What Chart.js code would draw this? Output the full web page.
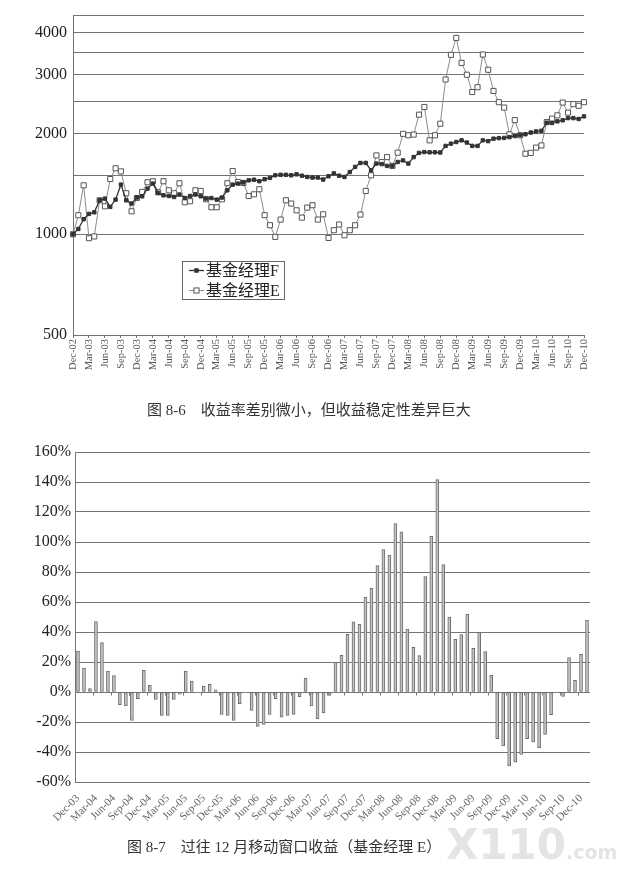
<!DOCTYPE html>
<html>
<head>
<meta charset="utf-8">
<script src="https://cdn.jsdelivr.net/npm/chart.js@4.4.0/dist/chart.umd.min.js"></script>
<style>
  body { margin: 0; background: #fff; width: 640px; height: 890px; position: relative; overflow: hidden; }
  canvas { position: absolute; left: 0; }
  #navChart { top: 0; }
  #rollChart { top: 430px; }
  .caption { position: absolute; font-family: "Liberation Serif", "Noto Sans CJK SC", serif; font-size: 15px; color: #333; white-space: pre; }
  #wm { position: absolute; left: 446px; top: 820px; font-family: "DejaVu Sans", sans-serif; font-weight: bold; color: #e4e4e4; white-space: pre; }
</style>
</head>
<body>
<canvas id="navChart" width="640" height="400"></canvas>
<canvas id="rollChart" width="640" height="410"></canvas>
<div class="caption" style="left:147px; top:398px;">图 8-6　收益率差别微小，但收益稳定性差异巨大</div>
<div class="caption" style="left:127px; top:835px;">图 8-7　过往 12 月移动窗口收益（基金经理 E）</div>
<div id="wm"><span style="font-size:42px;">X110</span><span style="font-size:19px;">.com</span></div>
<script>
const monthNames = ['Jan', 'Feb', 'Mar', 'Apr', 'May', 'Jun', 'Jul', 'Aug', 'Sep', 'Oct', 'Nov', 'Dec'];

// month labels like "Dec-02"
function monthLabels(year, month, count) {
  const out = [];
  for (let i = 0; i < count; i++) {
    const m = (month + i) % 12;
    const y = year + Math.floor((month + i) / 12);
    out.push(monthNames[m] + '-' + String(y).padStart(2, '0'));
  }
  return out;
}

const navMonths = monthLabels(2, 11, 97);   // Dec-02 .. Dec-10
const rollMonths = monthLabels(3, 11, 86);  // Dec-03 ..

// fund value, start = 1000
const managerF = [1000, 1037, 1109, 1150, 1163, 1263, 1278, 1207, 1269, 1407,
  1263, 1235, 1287, 1298, 1369, 1417, 1329, 1307, 1301, 1292,
  1314, 1283, 1301, 1314, 1298, 1278, 1283, 1269, 1287, 1353,
  1407, 1417, 1428, 1449, 1455, 1440, 1460, 1474, 1500, 1505,
  1505, 1500, 1510, 1496, 1483, 1477, 1477, 1457, 1490, 1520,
  1496, 1483, 1534, 1589, 1633, 1633, 1552, 1626, 1620, 1600,
  1600, 1644, 1662, 1626, 1700, 1750, 1760, 1757, 1757, 1755,
  1836, 1865, 1886, 1908, 1879, 1836, 1836, 1908, 1897, 1930,
  1937, 1940, 1950, 1965, 1980, 1990, 2013, 2028, 2037, 2154,
  2150, 2174, 2190, 2223, 2223, 2210, 2250];

const managerE = [1000, 1140, 1400, 973, 985, 1263, 1212, 1462, 1574, 1541,
  1326, 1171, 1283, 1338, 1430, 1440, 1335, 1440, 1353, 1326,
  1420, 1246, 1255, 1353, 1347, 1272, 1204, 1204, 1272, 1420,
  1545, 1432, 1423, 1301, 1316, 1363, 1140, 1064, 982, 1106,
  1263, 1235, 1179, 1121, 1201, 1221, 1106, 1147, 975, 1028,
  1069, 993, 1028, 1064, 1145, 1347, 1500, 1720, 1644, 1700,
  1600, 1753, 1995, 1975, 1985, 2276, 2400, 1908, 1975, 2139,
  2900, 3436, 3860, 3250, 2996, 2660, 2750, 3443, 3100, 2680,
  2480, 2390, 1988, 2193, 1975, 1740, 1750, 1815, 1842, 2163,
  2215, 2266, 2474, 2308, 2448, 2420, 2480];

// 12-month rolling return of manager E, in %
const rollingE = [27.3, 16, 2.2, 47, 33, 14, 11, -8.4, -9.3, -19,
  -4.4, 14.4, 4.4, -4.9, -15.6, -15.6, -5, -1.5, 14, 7.3,
  -0.5, 3.8, 5.1, 1.5, -14.9, -15.6, -19, -7.8, -0.5, -12.2,
  -22.9, -21.6, -14.9, -4.4, -16.7, -15.6, -14.9, -3.3, 9.3, -9.3,
  -18, -14, -2.2, 20, 24.4, 38.4, 46.7, 45.1, 63.3, 69.3,
  84.2, 94.9, 91.3, 112.2, 106.7, 42, 29.8, 24.2, 76.9, 103.8,
  141.6, 84.9, 50, 35.1, 38.2, 51.8, 29.1, 39.8, 26.9, 11.1,
  -31.1, -36, -49.3, -46.7, -41.6, -31.1, -33.3, -37.1, -28.2, -15.1,
  -0.5, -2.9, 22.9, 7.8, 25.1, 48];

const navGrid = [500, 1000, 1500, 2000, 2500, 3000, 3500, 4000, 4500];
const navLabels = [500, 1000, 2000, 3000, 4000];
const rollTicks = [-60, -40, -20, 0, 20, 40, 60, 80, 100, 120, 140, 160];

const serif = '"Liberation Serif", "Noto Sans CJK SC", serif';
const gridColor = '#747474';

// legend box drawn inside the plot, as in the book figure
const legendBox = {
  id: 'legendBox',
  afterDraw(chart) {
    const ctx = chart.ctx;
    ctx.save();
    ctx.fillStyle = '#fff';
    ctx.fillRect(182, 261, 102, 38);
    ctx.strokeStyle = '#666';
    ctx.lineWidth = 1;
    ctx.strokeRect(182.5, 261.5, 102, 38);
    chart.data.datasets.forEach((ds, i) => {
      const y = 270.5 + i * 20;
      ctx.strokeStyle = ds.borderColor;
      ctx.lineWidth = ds.borderWidth;
      ctx.beginPath();
      ctx.moveTo(189, y);
      ctx.lineTo(204, y);
      ctx.stroke();
      const s = ds.pointRadius * Math.SQRT1_2;
      ctx.fillStyle = ds.pointBackgroundColor;
      ctx.fillRect(196.5 - s, y - s, 2 * s, 2 * s);
      ctx.strokeStyle = ds.pointBorderColor;
      ctx.lineWidth = 1;
      ctx.strokeRect(196.5 - s, y - s, 2 * s, 2 * s);
      ctx.fillStyle = '#222';
      ctx.font = '16px ' + serif;
      ctx.textBaseline = 'middle';
      ctx.fillText(ds.label, 206, y + 1);
    });
    ctx.restore();
  }
};

// small category ticks on the 0% line, every third month
const zeroTicks = {
  id: 'zeroTicks',
  afterDatasetsDraw(chart) {
    const ctx = chart.ctx;
    const x = chart.scales.x;
    const y0 = Math.round(chart.scales.y.getPixelForValue(0)) + 0.5;
    ctx.save();
    ctx.strokeStyle = gridColor;
    ctx.lineWidth = 1;
    ctx.beginPath();
    for (let i = 0; i <= rollMonths.length; i += 3) {
      const px = Math.round(x.left + i * x.width / rollMonths.length) + 0.5;
      ctx.moveTo(px, y0);
      ctx.lineTo(px, y0 + 3);
    }
    ctx.stroke();
    ctx.restore();
  }
};

new Chart(document.getElementById('navChart'), {
  type: 'line',
  data: {
    labels: navMonths,
    datasets: [
      {
        label: '基金经理F',
        data: managerF,
        borderColor: '#333',
        borderWidth: 1.3,
        pointStyle: 'rect',
        pointRadius: 2.4,
        pointBackgroundColor: '#333',
        pointBorderColor: '#333',
        pointBorderWidth: 1,
      },
      {
        label: '基金经理E',
        data: managerE,
        borderColor: '#8c8c8c',
        borderWidth: 1,
        pointStyle: 'rect',
        pointRadius: 3.6,
        pointBackgroundColor: '#fff',
        pointBorderColor: '#555',
        pointBorderWidth: 1,
      },
    ],
  },
  options: {
    responsive: false,
    animation: false,
    layout: { padding: { top: 13, right: 56, left: 0, bottom: 0 } },
    plugins: {
      legend: { display: false },
      tooltip: { enabled: false },
    },
    scales: {
      x: {
        afterBuildTicks: s => { s.ticks = s.ticks.filter(t => t.value % 3 === 0); },
        afterFit: s => { s.height = 65; },
        ticks: {
          autoSkip: false,
          minRotation: 90,
          maxRotation: 90,
          padding: 1,
          color: '#555',
          font: { family: serif, size: 10.5 },
        },
        grid: { drawOnChartArea: false, tickLength: 3, color: gridColor },
        border: { color: gridColor },
      },
      y: {
        type: 'logarithmic',
        min: 500,
        max: 4500,
        afterBuildTicks: s => { s.ticks = navGrid.map(v => ({ value: v })); },
        afterFit: s => { s.width = 73; },
        ticks: {
          callback: v => navLabels.includes(v) ? String(v) : '',
          padding: 6,
          color: '#222',
          font: { family: serif, size: 16 },
        },
        grid: { color: gridColor, drawTicks: false },
        border: { color: gridColor },
      },
    },
  },
  plugins: [legendBox],
});

new Chart(document.getElementById('rollChart'), {
  type: 'bar',
  data: {
    labels: rollMonths,
    datasets: [{
      data: rollingE,
      backgroundColor: '#c4c4c4',
      borderColor: '#6c6c6c',
      borderWidth: 1,
      borderSkipped: false,
      barThickness: 3,
    }],
  },
  options: {
    responsive: false,
    animation: false,
    layout: { padding: { top: 22, right: 50, left: 0, bottom: 0 } },
    plugins: {
      legend: { display: false },
      tooltip: { enabled: false },
    },
    scales: {
      x: {
        afterBuildTicks: s => { s.ticks = s.ticks.filter(t => t.value % 3 === 0); },
        afterFit: s => { s.height = 58; },
        ticks: {
          autoSkip: false,
          minRotation: 45,
          maxRotation: 45,
          padding: 2,
          color: '#666',
          font: { family: serif, size: 11 },
        },
        grid: { display: false },
        border: { display: false },
      },
      y: {
        min: -60,
        max: 160,
        afterBuildTicks: s => { s.ticks = rollTicks.map(v => ({ value: v })); },
        afterFit: s => { s.width = 75; },
        ticks: {
          callback: v => v + '%',
          padding: 4,
          color: '#222',
          font: { family: serif, size: 16 },
        },
        grid: { color: gridColor, drawTicks: false },
        border: { color: gridColor },
      },
    },
  },
  plugins: [zeroTicks],
});
</script>
</body>
</html>
